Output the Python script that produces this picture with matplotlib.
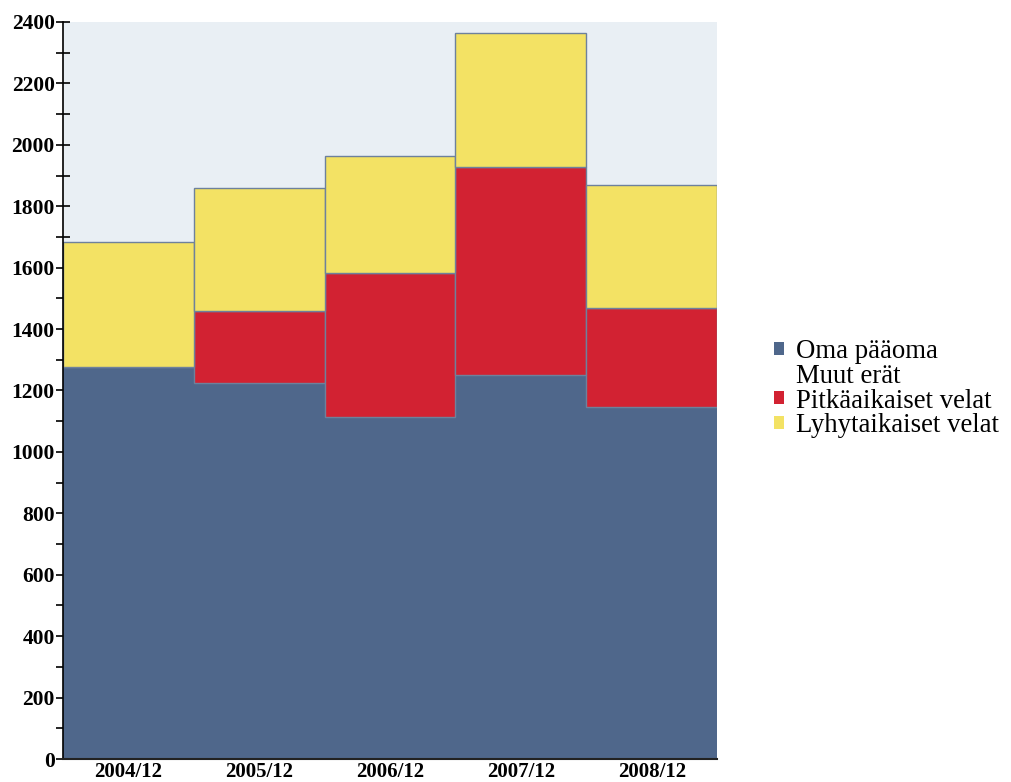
import matplotlib.pyplot as plt
from matplotlib.patches import Patch
from matplotlib.ticker import MultipleLocator
import numpy as np

years = ['2004/12', '2005/12', '2006/12', '2007/12', '2008/12']
oma_paaoma = [1277, 1226, 1115, 1250, 1147]
muut_erat = [0, 0, 0, 0, 0]
pitkaaikaiset = [0, 234, 466, 679, 321]
lyhytaikaiset = [407, 399, 382, 435, 400]

series = [
    ('Oma pääoma', oma_paaoma, '#4f678b', '#4f678b'),
    ('Muut erät', muut_erat, 'none', 'none'),
    ('Pitkäaikaiset velat', pitkaaikaiset, '#d22232', '#6e819c'),
    ('Lyhytaikaiset velat', lyhytaikaiset, '#f3e264', '#6e819c'),
]

plt.rcParams['font.family'] = ['Liberation Serif', 'DejaVu Serif']

fig = plt.figure(figsize=(10.11, 7.82), dpi=100)
ax = fig.add_axes([0.0623, 0.0294, 0.6470, 0.9425])
ax.set_facecolor('#e9eff4')

x = np.arange(len(years))
bottom = np.zeros(len(years))
for name, vals, color, edge in series:
    vals = np.array(vals, dtype=float)
    if color != 'none':
        ax.bar(x, vals, width=1.0, bottom=bottom, color=color,
               edgecolor=edge, linewidth=1.0, zorder=2)
    bottom += vals

ax.set_xlim(-0.5, len(years) - 0.5)
ax.set_ylim(0, 2400)
ax.yaxis.set_major_locator(MultipleLocator(200))
ax.yaxis.set_minor_locator(MultipleLocator(100))
ax.set_xticks(x)
ax.set_xticklabels(years)

for lab in ax.get_yticklabels():
    lab.set_fontweight('bold')
    lab.set_fontsize(15.5)
for lab in ax.get_xticklabels():
    lab.set_fontweight('bold')
    lab.set_fontsize(15)

ax.tick_params(axis='y', which='both', direction='inout', length=10, width=1.2, pad=1)
ax.tick_params(axis='x', direction='in', length=6, width=1, pad=2, color='#333333')

for s in ['top', 'right']:
    ax.spines[s].set_visible(False)
ax.spines['left'].set_linewidth(1.2)
ax.spines['bottom'].set_linewidth(1.5)
ax.spines['bottom'].set_color('#222222')

handles = [Patch(facecolor=c, edgecolor='none') for _, _, c, _ in series]
labels = [n for n, _, _, _ in series]
fig.legend(handles, labels, loc='center left', bbox_to_anchor=(0.766, 0.503),
           frameon=False, fontsize=19.3, handlelength=0.37, handleheight=0.37,
           handletextpad=0.45, labelspacing=-0.01, borderaxespad=0,
           borderpad=0)

fig.savefig('out.png', dpi=100)
